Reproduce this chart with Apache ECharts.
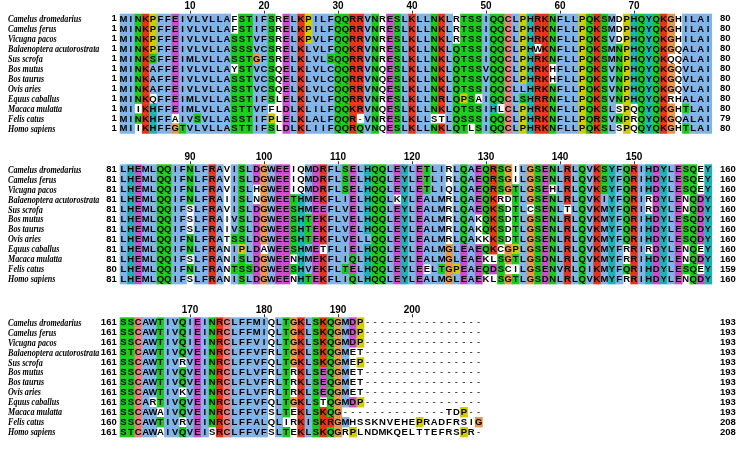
<!DOCTYPE html>
<html>
<head>
<meta charset="utf-8">
<script src="https://cdn.jsdelivr.net/npm/echarts@6/dist/echarts.min.js"></script>
<style>
  html, body { margin: 0; background: #fff; }
  #chart { width: 740px; height: 455px; }
</style>
</head>
<body>
<div id="chart"></div>
<script>
// species shown on every block
const species = [
  'Camelus dromedarius', 'Camelus ferus', 'Vicugna pacos', 'Balaenoptera acutorostrata',
  'Sus scrofa', 'Bos mutus', 'Bos taurus', 'Ovis aries', 'Equus caballus',
  'Macaca mulatta', 'Felis catus', 'Homo sapiens'
];

// alignment columns 1-80
const block1 = [
  'MINKPFFEIVLVLLAFSTIFSRELKPILFQQRRVNRESLKLLNKLRTSSIQQCLPHRKNFLLPQKSMDPHQYQKGHILAI',
  'MINKPFFEIVLVLLAFSTIFSRELKPILFQQRRVNRESLKLLNKLRTSSIQQCLPHRKNFLLPQKSMDPHQYQKGHILAI',
  'MINKPFFEIVLVLLASSTVFSRELKPVLFQQRRVNRESLKLLNKLRTSSIQQCLPHRKNFLLPQKSVDPHQYQKGHILAI',
  'MINKPFFEIVLVLLASSSVCSRELKLVLFQQKRVNRESLKLLNKLQTSSIQQCLPHWKNFLLPQKSMNPHQYQKGQALAI',
  'MINKSFFEIMLVLLASSTGFSRELKLVLSQQRRVNRESLKLLNKLQTSSIQQCLPHRKNFLLPQKSMNPHQYQKQQALAI',
  'MINKAFFEIVLVLLAYSTVCSQELKLVLCQQRRVNQESLKLLNKLQTSSVQQCLPHRKHFLLPQKSVNPHQYQKGQVLAI',
  'MINKAFFEIVLVLLASSTVCSQELKLVLCQQRRVNQESLKLLNKLQTSSVQQCLPHRKHFLLPQKSVNPHQYQKGQVLAI',
  'MINKAFFEIVLVLLASSTVCSQELKLVLCQQRRVNQESLKLLNKLQTSSIQQCLLHRKNFLLPQKSVNPHQYQKGQVLAI',
  'MINKQFFEIMLVLLASSTIFSLELKLVLFQQRRVNRESLKLLNRLQPSAIQQCLSHRRNFLLPQKSVNPHQYQKRHALAI',
  'MIIKHFFEIMLVLLASTTVFFLDLKLILFQQKRVNQESLKLLNKLQTSSIHLCLPHRKNFLLPQKSLSPQQYQKGHTLAI',
  'MINKHFFAIVSVLLASSTIFPLELKLALFQQR-VNRESLKLLSTLQSSSIQQCLPHRKNFLLPQRSVNPRQYQKGQALAI',
  'MIIKHFFGTVLVLLASTTIFSLDLKLIIFQQRQVNQESLKLLNKLQTLSIQQCLPHRKNFLLPQKSLSPQQYQKGHTLAI'
];

// alignment columns 81-160
const block2 = [
  'LHEMLQQIFNLFRAVISLDGWEEIQMDRFLSELHQQLEYLETLIRLQAEQRSGILGSENLRLQVKSYFQRIHDYLESQEY',
  'LHEMLQQIFNLFRAVISLDGWEEIQMDRFLSELHQQLEYLETLIRLQAEQRSGILGSENLRLQVKSYFQRIHDYLESQEY',
  'LHEMLQQIFNLFRAVISLHGWEEIQMDRFLSELHQQLEYLETLIQLQAEQRSGTLGSEHLRLQVKSYFQRIHDYLESQEY',
  'LHEMLQQIFNLFRAIISLNGWEETHMEKFLIELHQQLKYLEALMRLQAEQKRDTLGSENLRLQVKIYFQRIRDYLENQDY',
  'LHEMLQQIFSLFRAVISLDGWEESHMEEFLVELHQQLEYLEALMRLQAEQKSDTLCSENLTLQVKMYFQRIRDYLENQDY',
  'LHEMLQQIFSLFRAIVSLDGWEESHTEKFLVELHQQLEYLEALMRLQAKQKSDTLGSENLRLQVKMYFQRIHDYLESQDY',
  'LHEMLQQIFSLFRAIVSLDGWEESHTEKFLVELHQQLEYLEALMRLQAKQKSDTLGSENLRLQVKMYFQRIHDYLESQDY',
  'LHEMLQQIFNLFRATSSLDGWEESHTEKFLVELLQQLEYLEALMRLQAKKKSDTLGSENLRLQVKMYFQRIHDYLESQDY',
  'LHEMLQQIFNLFRANIPLDAWEESHMETFLIELHQQLEYLEALMGLEAEQKCGPLGSENLRLQVKMYFRRIRDYLENQEY',
  'LHEMLQQIFSLFRANISLDGWEENHMEKFLIQLHQQLEYLEALMGLEAEKLSGTLGSDNLRLQVKMYFRRIHDYLENQDY',
  'LHEMLQQIFNLFRANTSSDGWEESHVEKFLTELHQQLEYLEELTGPEAEQDSCILGSENVRLQIKMYFQRIHDYLESQEY',
  'LHEMLQQIFSLFRANISLDGWEENHTEKFLIQLHQQLEYLEALMGLEAEKLSGTLGSDNLRLQVKMYFRRIHDYLENQDY'
];

// alignment columns 161-209
const block3 = [
  'SSCAWTIVQIEINRCLFFMIQLTGKLSKQGMDP----------------',
  'SSCAWTIVQIEINRCLFFMIQLTGKLSKQGMDP----------------',
  'SSCAWTIVQIEINRCLFFVIQLTGKLSKQGMDP----------------',
  'STCAWTIVQVEINRCLFFVFRLTGKLSKQGMET----------------',
  'SSCAWTIVRVEINRCLFFVFQLTGKLSKQGMEP----------------',
  'SSCAWTIVQVEINRCLFLVFRLTRKLSEQGMET----------------',
  'SSCAWTIVQVEINRCLFLVFRLTRKLSEQGMET----------------',
  'SSCAWTIVKVEINRCLFLVFRLTRKLSEQGMET----------------',
  'SSCARTIVQVEINRCLFFVFQLTGKLSTQGMDP----------------',
  'SSCAWAIVQVEINRCLFFVFSLTEKLSKQG--------------TDP--',
  'SSCAWTIVRVEINRCLFFALQLIRKISKRGMHSSKNVEHEPRADFRSIG',
  'STCAWAIVQVEISRCLFFVFSLTEKLSKQGRPLNDMKQELTTEFRSPR-'
];

const blockStartCol = [1, 81, 161];

// Clustal X colour scheme (Jalview flavour)
const clustal = {
  blue: '#80b3e6', red: '#e6331a', green: '#1acc1a', orange: '#e6994d',
  cyan: '#1ab3b3', pink: '#e68080', magenta: '#cc4dcc', yellow: '#cccc00'
};
const HYD = 'WLVIMAFCHP';
// [residues, colour, [[group, threshold %], ...]] - a later match wins
const rules = [
  ['AILMFWVC', 'blue', [[HYD, 60]]],
  ['KR', 'red', [['KR', 60], ['K', 85], ['R', 85], ['Q', 85]]],
  ['E', 'magenta', [['KR', 60], ['QE', 50], ['E', 85], ['Q', 85], ['D', 85]]],
  ['D', 'magenta', [['KR', 60], ['K', 85], ['R', 85], ['Q', 85], ['ED', 50]]],
  ['N', 'green', [['N', 50], ['N', 85], ['Y', 85]]],
  ['Q', 'green', [['KR', 60], ['QE', 50], ['Q', 85], ['E', 85], ['K', 85], ['R', 85]]],
  ['ST', 'green', [[HYD, 60], ['TS', 50], ['S', 85], ['T', 85]]],
  ['C', 'pink', [['C', 85]]],
  ['G', 'orange', [['G', 0]]],
  ['P', 'yellow', [['P', 0]]],
  ['HY', 'cyan', [[HYD, 60], ['W', 85], ['Y', 85], ['A', 85], ['C', 85], ['P', 85], ['Q', 85],
    ['F', 85], ['H', 85], ['I', 85], ['L', 85], ['M', 85], ['V', 85]]]
];

function columnColour(rows, col, ch) {
  const n = rows.length;
  const pct = set => rows.filter(s => set.indexOf(s[col]) >= 0).length * 100 / n;
  let colour = null;
  rules.forEach(([res, c, conds]) => {
    if (res.indexOf(ch) < 0) return;
    if (conds.some(([set, t]) => pct(set) > t)) colour = clustal[c];
  });
  return colour;
}

const blocks = [block1, block2, block3];
const chart = echarts.init(document.getElementById('chart'));

const colW = 7.4, rowH = 9.97, gridLeft = 119.7;
const blockTops = [13.7, 164.3, 317.3];
const endLabelX = 720;

function residuesBefore(b, r) {
  let n = 0;
  for (let k = 0; k < b; k++) n += blocks[k][r].replace(/-/g, '').length;
  return n;
}

const grid = [], xAxis = [], yAxis = [], series = [];
blocks.forEach((rows, b) => {
  const len = rows[0].length;
  const cols = [];
  for (let i = 0; i < len; i++) cols.push(String(blockStartCol[b] + i));
  const lastCol = blockStartCol[b] + len - 1;
  const startNums = rows.map((s, r) => residuesBefore(b, r) + 1);
  const endNums = rows.map((s, r) => residuesBefore(b, r) + s.replace(/-/g, '').length);
  const showRuler = i => (+cols[i]) % 10 === 0 && +cols[i] !== lastCol;
  const width = len * colW;

  grid.push({ left: gridLeft, top: blockTops[b], width: width, height: rowH * rows.length });
  xAxis.push({
    type: 'category', gridIndex: b, position: 'top', data: cols,
    axisLine: { show: false },
    axisTick: { show: true, alignWithLabel: true, length: 3, interval: showRuler, lineStyle: { color: '#333' } },
    axisLabel: {
      interval: showRuler, margin: 2, color: '#000', fontSize: 10, fontWeight: 'bold',
      fontFamily: 'Liberation Sans'
    },
    splitLine: { show: false }
  });
  const base = {
    type: 'category', gridIndex: b, data: species, inverse: true,
    axisLine: { show: false }, axisTick: { show: false }, splitLine: { show: false }
  };
  const nameAxis = yAxis.length;
  yAxis.push(Object.assign({}, base, { position: 'left', axisLabel: { show: false } }));
  yAxis.push(Object.assign({}, base, {
    position: 'left',
    axisLabel: {
      interval: 0, align: 'right', margin: 3, color: '#000', fontSize: 9.5, fontWeight: 'bold',
      fontFamily: 'Liberation Sans', formatter: (v, i) => String(startNums[i])
    }
  }));
  yAxis.push(Object.assign({}, base, {
    position: 'right',
    axisLabel: {
      interval: 0, align: 'left', margin: endLabelX - gridLeft - width, color: '#000', fontSize: 9.5,
      fontWeight: 'bold', fontFamily: 'Liberation Sans', formatter: (v, i) => String(endNums[i])
    }
  }));

  // species names, condensed bold italic serif
  series.push({
    type: 'custom', xAxisIndex: b, yAxisIndex: nameAxis, silent: true, clip: false,
    data: species.map((s, r) => [0, r]),
    renderItem: (params, api) => {
      const p = api.coord([0, params.dataIndex]);
      return {
        type: 'text', x: 8, y: p[1] + 0.5, scaleX: 0.735,
        style: {
          text: species[params.dataIndex], x: 0, y: 0, align: 'left', verticalAlign: 'middle',
          fill: '#000', font: 'italic bold 11px "Liberation Serif"'
        }
      };
    }
  });

  const cells = [];
  rows.forEach((s, r) => {
    for (let c = 0; c < len; c++) {
      cells.push({ value: [c, r], ch: s[c], colour: s[c] === '-' ? null : columnColour(rows, c, s[c]) });
    }
  });
  series.push({
    type: 'custom', xAxisIndex: b, yAxisIndex: nameAxis, silent: true,
    data: cells.map(d => d.value),
    renderItem: (params, api) => {
      const d = cells[params.dataIndex];
      const p = api.coord(d.value);
      const sz = api.size([1, 1]);
      const children = [];
      if (d.colour) {
        children.push({
          type: 'rect',
          shape: { x: p[0] - sz[0] / 2, y: p[1] - sz[1] / 2, width: sz[0] + 0.4, height: sz[1] + 0.4 },
          style: { fill: d.colour }
        });
      }
      children.push({
        type: 'text',
        style: {
          text: d.ch, x: p[0], y: p[1] + 0.5, align: 'center', verticalAlign: 'middle',
          fill: '#000', font: (d.ch === '-' ? '' : 'bold ') + '9.5px "Liberation Sans"'
        }
      });
      return { type: 'group', children: children };
    }
  });
});

chart.setOption({
  backgroundColor: '#fff',
  animation: false,
  grid: grid,
  xAxis: xAxis,
  yAxis: yAxis,
  series: series
});
</script>
</body>
</html>
